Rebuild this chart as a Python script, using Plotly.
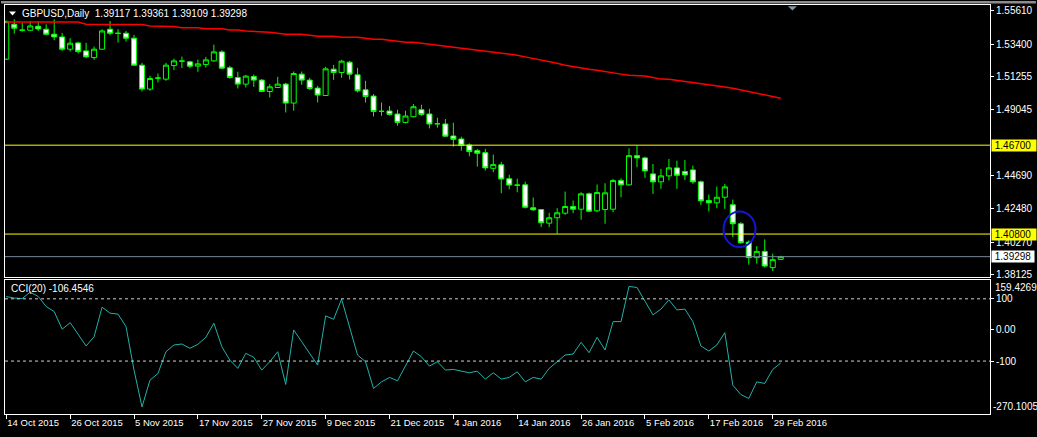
import plotly.graph_objects as go
import pandas as pd

# ---------------- data ----------------
_days = pd.bdate_range("2015-10-14", "2016-03-01")
dates = [d for d in _days if d.strftime("%Y-%m-%d") not in ("2015-12-25", "2016-01-01")]
categories = [d.strftime("%Y-%m-%d") for d in dates]

open_ = [1.52411, 1.54729, 1.54331, 1.54331, 1.54596, 1.54398, 1.54067, 1.53888, 1.53073, 1.53490,
         1.52961, 1.52517, 1.53073, 1.54398, 1.54133, 1.54133, 1.53802, 1.52013, 1.50424, 1.51152,
         1.51086, 1.51987, 1.52278, 1.52232, 1.51947, 1.52053, 1.52298, 1.52894, 1.51835, 1.51192,
         1.50755, 1.51258, 1.51020, 1.50265, 1.50530, 1.50755, 1.49497, 1.51417, 1.51020, 1.50490,
         1.50000, 1.51749, 1.51523, 1.52212, 1.51371, 1.50378, 1.49960, 1.48940, 1.48967, 1.48768,
         1.48212, 1.48589, 1.49053, 1.48768, 1.48126, 1.48106, 1.47311, 1.47112, 1.46715, 1.46338,
         1.46205, 1.45165, 1.45397, 1.44470, 1.44053, 1.44066, 1.42543, 1.42430, 1.41523, 1.41880,
         1.42185, 1.42629, 1.42450, 1.43470, 1.42344, 1.42430, 1.42450, 1.44351, 1.44066, 1.46006,
         1.45854, 1.44794, 1.44265, 1.44662, 1.45192, 1.44947, 1.45059, 1.44265, 1.43026, 1.42874,
         1.43245, 1.42741, 1.41483, 1.40264, 1.39231, 1.39648, 1.38569, 1.39117]
high = [1.54981, 1.55060, 1.54815, 1.54947, 1.54901, 1.54729, 1.55060, 1.54153, 1.53802, 1.53576,
        1.53490, 1.53245, 1.54398, 1.54947, 1.54398, 1.54285, 1.54020, 1.52166, 1.51305, 1.51457,
        1.52166, 1.52451, 1.52583, 1.52298, 1.52384, 1.52563, 1.53378, 1.53007, 1.51967, 1.51570,
        1.51371, 1.51391, 1.51086, 1.50755, 1.51239, 1.50841, 1.51590, 1.51590, 1.51172, 1.50642,
        1.51901, 1.52033, 1.52364, 1.52298, 1.51835, 1.50974, 1.50093, 1.49536, 1.49298, 1.49053,
        1.48987, 1.49430, 1.49384, 1.49119, 1.48523, 1.48437, 1.48192, 1.47265, 1.46821, 1.46450,
        1.46450, 1.46073, 1.45589, 1.44735, 1.44470, 1.44284, 1.43225, 1.42463, 1.42211, 1.42516,
        1.43622, 1.43026, 1.43576, 1.43556, 1.44086, 1.44172, 1.44463, 1.44503, 1.46490, 1.46669,
        1.45940, 1.45457, 1.45126, 1.45788, 1.45675, 1.45722, 1.45344, 1.44351, 1.43423, 1.43953,
        1.44132, 1.43092, 1.41589, 1.40377, 1.39999, 1.40443, 1.39496, 1.39361]
low = [1.52364, 1.54106, 1.54239, 1.54285, 1.54285, 1.54000, 1.53669, 1.52961, 1.52914, 1.52782,
       1.52477, 1.52364, 1.53027, 1.54000, 1.53510, 1.53576, 1.51987, 1.50265, 1.50311, 1.50861,
       1.50974, 1.51682, 1.51815, 1.51815, 1.51570, 1.51855, 1.52232, 1.51749, 1.51106, 1.50464,
       1.50530, 1.50576, 1.50245, 1.49868, 1.50490, 1.48874, 1.48987, 1.50709, 1.50378, 1.49536,
       1.49980, 1.51040, 1.51172, 1.51060, 1.50199, 1.49536, 1.48609, 1.48656, 1.48675, 1.47993,
       1.48146, 1.48543, 1.48656, 1.47814, 1.47861, 1.47265, 1.46602, 1.46338, 1.45960, 1.45278,
       1.45013, 1.44900, 1.43510, 1.43774, 1.43576, 1.42496, 1.42344, 1.41258, 1.41258, 1.40821,
       1.42079, 1.42185, 1.41748, 1.42251, 1.42251, 1.41483, 1.42251, 1.43245, 1.44019, 1.45231,
       1.44529, 1.43470, 1.43801, 1.44351, 1.43801, 1.44397, 1.44132, 1.42741, 1.42298, 1.42516,
       1.42476, 1.40595, 1.40158, 1.38767, 1.38834, 1.38569, 1.38344, 1.39109]
close = [1.54901, 1.54464, 1.54340, 1.54616, 1.54418, 1.54067, 1.53888, 1.53073, 1.53471, 1.52914,
         1.52563, 1.53073, 1.54285, 1.54133, 1.54125, 1.53802, 1.52013, 1.50424, 1.51126, 1.51160,
         1.52013, 1.52298, 1.52285, 1.51947, 1.52100, 1.52364, 1.52894, 1.51815, 1.51192, 1.50755,
         1.51285, 1.51020, 1.50265, 1.50576, 1.50755, 1.49497, 1.51457, 1.51020, 1.50464, 1.50027,
         1.51768, 1.51523, 1.52278, 1.51417, 1.50311, 1.49934, 1.48940, 1.48950, 1.48742, 1.48212,
         1.48636, 1.49252, 1.48742, 1.48106, 1.48120, 1.47298, 1.47086, 1.46689, 1.46271, 1.46159,
         1.45192, 1.45410, 1.44450, 1.44053, 1.44045, 1.42582, 1.42410, 1.41549, 1.41880, 1.42211,
         1.42629, 1.42450, 1.43470, 1.42317, 1.43556, 1.43536, 1.44351, 1.44066, 1.46006, 1.45854,
         1.44993, 1.44265, 1.44662, 1.45192, 1.44702, 1.44728, 1.44265, 1.43006, 1.42874, 1.43245,
         1.43933, 1.41483, 1.40225, 1.39231, 1.39648, 1.38675, 1.39099, 1.39298]
ma200 = [1.54881, 1.54881, 1.54881, 1.54881, 1.54881, 1.54881, 1.54881, 1.54881, 1.54881, 1.54881,
         1.54729, 1.54729, 1.54729, 1.54729, 1.54729, 1.54729, 1.54729, 1.54716, 1.54616, 1.54616,
         1.54616, 1.54583, 1.54504, 1.54504, 1.54504, 1.54437, 1.54437, 1.54437, 1.54351, 1.54351,
         1.54285, 1.54265, 1.54199, 1.54199, 1.54133, 1.54067, 1.54067, 1.54067, 1.54000, 1.53934,
         1.53934, 1.53934, 1.53868, 1.53868, 1.53868, 1.53802, 1.53735, 1.53735, 1.53669, 1.53603,
         1.53537, 1.53537, 1.53471, 1.53404, 1.53338, 1.53272, 1.53206, 1.53139, 1.53073, 1.53007,
         1.52941, 1.52874, 1.52808, 1.52749, 1.52676, 1.52563, 1.52464, 1.52364, 1.52245, 1.52133,
         1.52013, 1.51914, 1.51815, 1.51735, 1.51669, 1.51570, 1.51484, 1.51417, 1.51338, 1.51305,
         1.51285, 1.51186, 1.51086, 1.51073, 1.51007, 1.50934, 1.50874, 1.50808, 1.50742, 1.50656,
         1.50563, 1.50484, 1.50378, 1.50272, 1.50179, 1.50046, 1.49940, 1.49815]
cci20 = [107.4, 102.3, 101.0, 121.6, 107.4, 75.2, 59.0, 2.3, 23.5, -12.9,
         -51.6, -21.6, 73.2, 53.9, 50.6, 10.6, -129.0, -247.4, -161.3, -139.7,
         -70.0, -48.4, -45.2, -59.0, -46.1, -23.5, 21.6, -53.9, -96.8, -123.5,
         -75.2, -88.0, -129.0, -102.3, -70.0, -175.2, 0.0, -37.7, -77.4, -112.9,
         45.2, 34.5, 99.0, 10.6, -80.6, -102.3, -188.0, -166.8, -152.6, -163.5,
         -116.1, -67.7, -86.1, -116.1, -102.3, -129.0, -126.8, -131.3, -137.7, -132.3,
         -158.0, -137.7, -158.0, -152.6, -134.5, -166.8, -152.6, -158.0, -123.5, -102.3,
         -80.6, -77.4, -39.7, -73.2, -23.5, -64.5, 26.8, 26.8, 139.7, 136.5,
         91.3, 48.4, 66.8, 96.8, 64.5, 66.8, 26.8, -51.6, -67.7, -48.4,
         -8.7, -177.4, -207.4, -220.3, -166.8, -171.9, -126.8, -106.4546]

tick_idx = list(range(0, 98, 8))
tick_vals = [categories[i] for i in tick_idx]
tick_labels = [f"{dates[i].day} {dates[i]:%b %Y}" for i in tick_idx]

price_ticks = [1.55610, 1.53400, 1.51255, 1.49045, 1.44690, 1.42480, 1.40270, 1.38125]
level_lines = [1.46700, 1.40800]
bid_price = close[-1]
cci_ticks = [100, 0, -100]
cci_tick_text = ["100", "0.00", "-100"]
cci_max, cci_min = 159.4269, -270.1005

# ---------------- layout helpers (pixel -> paper) ----------------
W, H = 1037, 437
ML, MR, MT, MB = 4, 46, 4, 23
PW, PH = W - ML - MR, H - MT - MB


def px(x):
    return (x - ML) / PW


def py(y):
    return (H - MB - y) / PH


FONT = "Liberation Sans"
GREEN = "#00FF00"
WHITE = "#FFFFFF"

fig = go.Figure()
fig.add_trace(go.Candlestick(
    x=categories, open=open_, high=high, low=low, close=close,
    increasing=dict(line=dict(color=GREEN, width=1), fillcolor="#000000"),
    decreasing=dict(line=dict(color=GREEN, width=1), fillcolor="#FFFFFF"),
    whiskerwidth=0, hoverinfo="skip", xaxis="x", yaxis="y", showlegend=False))
fig.add_trace(go.Scatter(x=categories, y=ma200, mode="lines",
                         line=dict(color="#FF0000", width=1.5),
                         hoverinfo="skip", xaxis="x", yaxis="y", showlegend=False))
fig.add_trace(go.Scatter(x=categories, y=cci20, mode="lines",
                         line=dict(color="#20B2AA", width=1),
                         hoverinfo="skip", xaxis="x2", yaxis="y2", showlegend=False))

xr = [-0.16, 123.215]
main_bottom = py(277)
cci_top = py(280)

axis_common = dict(showgrid=False, zeroline=False, showline=True, mirror=True,
                   linecolor=WHITE, linewidth=1)

fig.update_layout(
    width=W, height=H,
    margin=dict(l=ML, r=MR, t=MT, b=MB),
    paper_bgcolor="#000000", plot_bgcolor="#000000",
    boxgap=0.3, boxgroupgap=0.1,
    showlegend=False, hovermode=False,
    xaxis=dict(domain=[0, 1], anchor="y", type="category", range=xr,
               showticklabels=False, ticks="", rangeslider=dict(visible=False),
               **axis_common),
    yaxis=dict(domain=[main_bottom, 1], anchor="x", side="right",
               range=[1.37926, 1.56007],
               tickvals=price_ticks, ticktext=[f"{v:.5f}" for v in price_ticks],
               ticks="outside", ticklen=3, tickcolor=WHITE,
               tickfont=dict(family=FONT, size=10, color=WHITE),
               **axis_common),
    xaxis2=dict(domain=[0, 1], anchor="y2", type="category", range=xr, matches="x",
                tickvals=tick_vals, ticktext=tick_labels,
                ticks="outside", ticklen=4, tickcolor=WHITE,
                ticklabelposition="outside right",
                tickfont=dict(family=FONT, size=9.5, color=WHITE),
                rangeslider=dict(visible=False),
                **axis_common),
    yaxis2=dict(domain=[0, cci_top], anchor="x2", side="right",
                range=[cci_min, cci_max],
                tickvals=cci_ticks, ticktext=cci_tick_text,
                ticks="outside", ticklen=3, tickcolor=WHITE,
                tickfont=dict(family=FONT, size=10, color=WHITE),
                **axis_common),
)

shapes = []
for lvl in level_lines:
    shapes.append(dict(type="line", xref="x domain", yref="y", x0=0, x1=1, y0=lvl, y1=lvl,
                       line=dict(color="#FFFF00", width=1)))
shapes.append(dict(type="line", xref="x domain", yref="y", x0=0, x1=1, y0=bid_price, y1=bid_price,
                   line=dict(color="#778899", width=1)))
for lvl in (100, -100):
    shapes.append(dict(type="line", xref="x2 domain", yref="y2", x0=0, x1=1, y0=lvl, y1=lvl,
                       line=dict(color="#D0D0D0", width=1, dash="3px,3px")))
# blue highlight circle
shapes.append(dict(type="circle", xref="x", yref="y", x0=89.84, x1=93.84,
                   y0=1.39933, y1=1.42298, line=dict(color="#1414DC", width=2)))
# window top border band
shapes.append(dict(type="rect", xref="paper", yref="paper", x0=px(0), x1=px(W),
                   y0=py(2.5), y1=py(0), line=dict(width=0), fillcolor="#8C8C8C", layer="above"))
# chart shift marker
shapes.append(dict(type="path", xref="paper", yref="paper",
                   path=f"M {px(788.5)} {py(5.2)} L {px(797.5)} {py(5.2)} L {px(793)} {py(9.6)} Z",
                   line=dict(width=0), fillcolor="#8796A6", layer="above"))
# title dropdown triangle
shapes.append(dict(type="path", xref="paper", yref="paper",
                   path=f"M {px(8)} {py(10.5)} L {px(15)} {py(10.5)} L {px(11.5)} {py(14.5)} Z",
                   line=dict(width=0), fillcolor=WHITE, layer="above"))
fig.update_layout(shapes=shapes)

NB = "\u00a0"
ann = []
title = (f"GBPUSD,Daily{NB} {open_[-1]:.5f} {high[-1]:.5f} "
         f"{low[-1]:.5f} {close[-1]:.5f}")
ann.append(dict(text=title, xref="paper", yref="paper", x=px(19), y=py(12.5),
                xanchor="left", yanchor="middle", showarrow=False,
                font=dict(family=FONT, size=10, color=WHITE)))
ann.append(dict(text=f"CCI(20) {cci20[-1]:.4f}", xref="paper", yref="paper",
                x=px(8), y=py(288), xanchor="left", yanchor="middle", showarrow=False,
                font=dict(family=FONT, size=10, color=WHITE)))
for lvl in level_lines:
    ann.append(dict(text=f"{NB}{lvl:.5f}{NB}{NB}", xref="paper", yref="y", x=1, y=lvl,
                    xanchor="left", yanchor="middle", xshift=1, showarrow=False,
                    bgcolor="#FFFF00", borderpad=0,
                    font=dict(family=FONT, size=10, color="#000000")))
ann.append(dict(text=f"{NB}{bid_price:.5f}{NB}", xref="paper", yref="y", x=1, y=bid_price,
                xanchor="left", yanchor="middle", xshift=1, showarrow=False, bgcolor=WHITE,
                borderpad=0, font=dict(family=FONT, size=10, color="#000000")))
ann.append(dict(text=f"{cci_max:.4f}", xref="paper", yref="y2 domain", x=1, y=1,
                xanchor="left", yanchor="top", xshift=3, showarrow=False,
                font=dict(family=FONT, size=10, color=WHITE)))
ann.append(dict(text=f"{cci_min:.4f}", xref="paper", yref="y2 domain", x=1, y=0,
                xanchor="left", yanchor="bottom", xshift=1, showarrow=False,
                font=dict(family=FONT, size=10, color=WHITE)))
fig.update_layout(annotations=ann)

fig.write_html("out.html",
               config={"displayModeBar": False, "staticPlot": True},
               post_script="document.body.style.margin='0';document.body.style.background='#000';")
